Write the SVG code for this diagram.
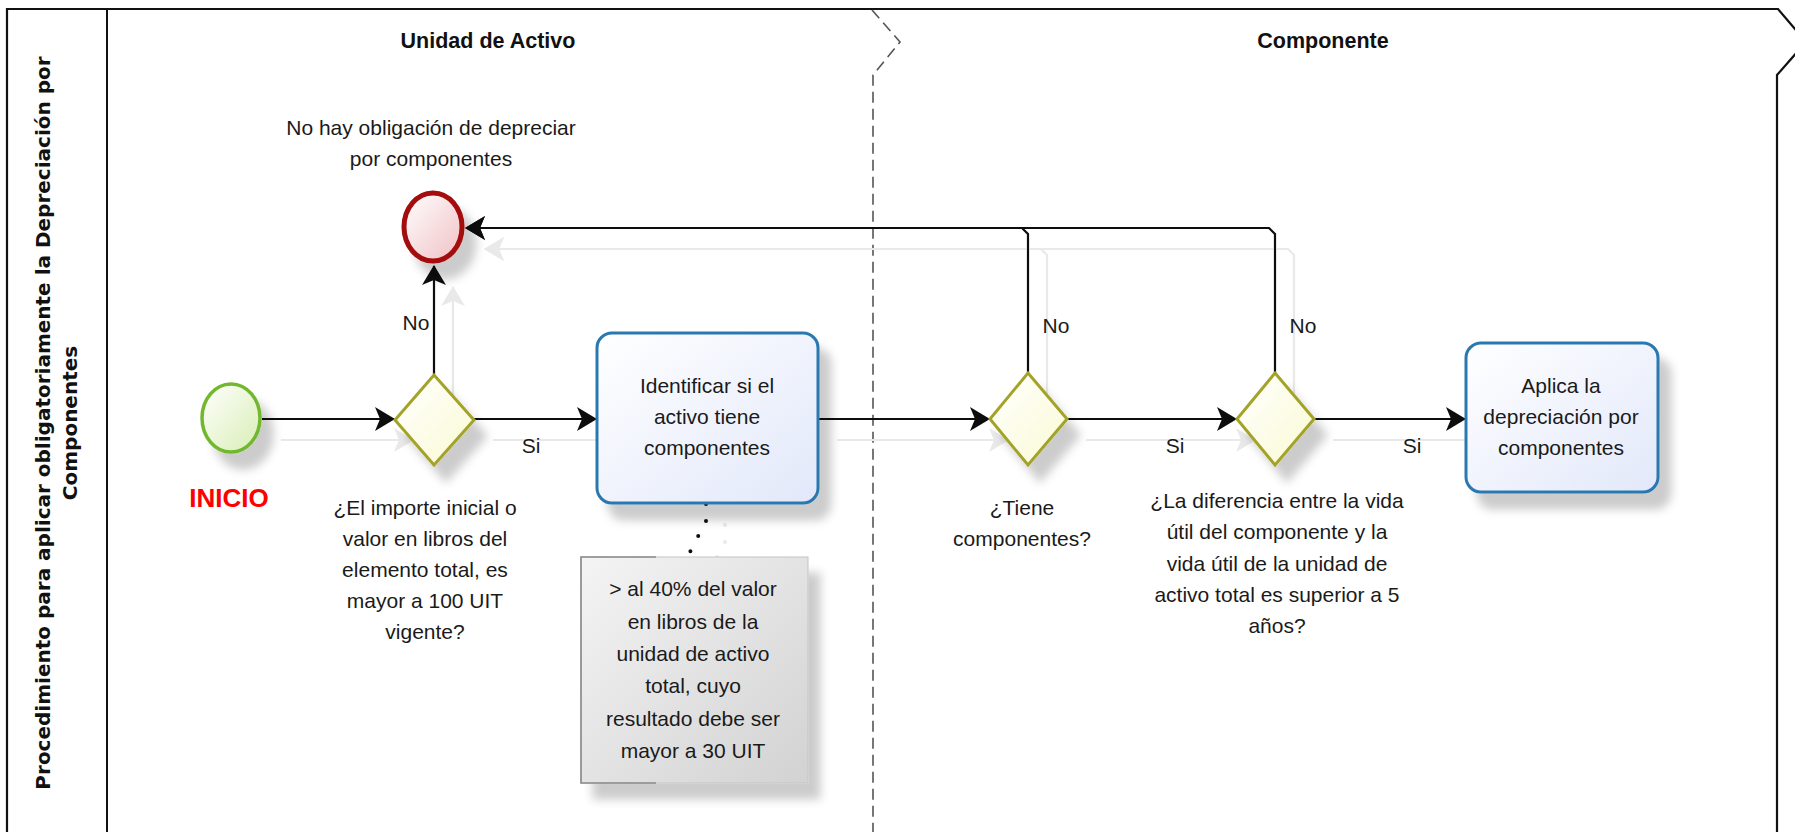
<svg xmlns="http://www.w3.org/2000/svg" width="1795" height="832" viewBox="0 0 1795 832">
<defs>
<style>
.t{font-family:"Liberation Sans",Arial,sans-serif;font-size:21px;fill:#1a1a1a;text-anchor:middle}
.title{font-family:"Liberation Sans",Arial,sans-serif;font-size:21.5px;font-weight:bold;fill:#111;text-anchor:middle}
.pool{font-family:"DejaVu Sans",Verdana,sans-serif;font-size:20px;font-weight:bold;fill:#111;text-anchor:middle}
.flow{fill:none;stroke:#111;stroke-width:2.2}
.gw{fill:url(#gGw);stroke:#a3a32a;stroke-width:3}
.task{fill:url(#gTask);stroke:#2a78b0;stroke-width:3}
</style>
<linearGradient id="gTask" x1="0" y1="0" x2="1" y2="1"><stop offset="0" stop-color="#ffffff"/><stop offset="1" stop-color="#e2e8fa"/></linearGradient>
<linearGradient id="gGw" x1="0" y1="0" x2="1" y2="1"><stop offset="0" stop-color="#ffffff"/><stop offset="1" stop-color="#fafad4"/></linearGradient>
<linearGradient id="gStart" x1="0" y1="0" x2="1" y2="1"><stop offset="0" stop-color="#ffffff"/><stop offset="1" stop-color="#d8eeb4"/></linearGradient>
<linearGradient id="gEnd" x1="0" y1="0" x2="1" y2="1"><stop offset="0" stop-color="#ffffff"/><stop offset="1" stop-color="#f0c0c4"/></linearGradient>
<linearGradient id="gAnn" x1="0" y1="0" x2="1" y2="1"><stop offset="0" stop-color="#f4f4f4"/><stop offset="1" stop-color="#d2d2d2"/></linearGradient>
<filter id="nsh" x="-30%" y="-30%" width="170%" height="170%"><feDropShadow dx="12" dy="16" stdDeviation="5" flood-color="#000" flood-opacity="0.2"/></filter>
<filter id="csh" filterUnits="userSpaceOnUse" x="0" y="0" width="1795" height="832">
<feOffset in="SourceAlpha" dx="19" dy="21" result="o"/>
<feFlood flood-color="#e9e9e9"/>
<feComposite in2="o" operator="in" result="s"/>
<feMerge><feMergeNode in="s"/><feMergeNode in="SourceGraphic"/></feMerge>
</filter>
<marker id="arr" markerUnits="userSpaceOnUse" viewBox="0 0 20 24" markerWidth="20" markerHeight="24" refX="19" refY="12" orient="auto">
<path d="M0,0 L20,12 L0,24 L5,12 Z" fill="#111"/>
</marker>
</defs>

<g id="pool">
<path d="M7,845 L7,9 L1778,9 L1806,42 L1777,75 L1777,845" fill="#fff" stroke="#111" stroke-width="2.2"/>
<line x1="107" y1="9" x2="107" y2="845" stroke="#111" stroke-width="2"/>
<path d="M872,10 L900,42 L873,75 L873,845" fill="none" stroke="#555" stroke-width="1.6" stroke-dasharray="11 6"/>
<text class="pool" transform="translate(50,423) rotate(-90)">Procedimiento para aplicar obligatoriamente la Depreciación por</text>
<text class="pool" transform="translate(77,423) rotate(-90)">Componentes</text>
<text class="title" x="488" y="48">Unidad de Activo</text>
<text class="title" x="1323" y="48">Componente</text>
</g>

<g id="connectors">
<g filter="url(#csh)">
<path class="flow" d="M262,419 L394,419" marker-end="url(#arr)"/>
<path class="flow" d="M434,375 L434,266" marker-end="url(#arr)"/>
<path class="flow" d="M474,419 L596,419" marker-end="url(#arr)"/>
<path class="flow" d="M818,419 L989,419" marker-end="url(#arr)"/>
<path class="flow" d="M1067,419 L1236,419" marker-end="url(#arr)"/>
<path class="flow" d="M1314,419 L1465,419" marker-end="url(#arr)"/>
<path class="flow" d="M1028,373 L1028,234 L1022,228 L466,228" marker-end="url(#arr)"/>
<path class="flow" d="M1275,373 L1275,234 L1269,228 L466,228" marker-end="url(#arr)"/>
<path d="M706,504 L706,521 L690,552" fill="none" stroke="#111" stroke-width="4" stroke-linecap="round" stroke-dasharray="0 17"/>
</g>
<text class="t" x="416" y="330">No</text>
<text class="t" x="531" y="453">Si</text>
<text class="t" x="1056" y="333">No</text>
<text class="t" x="1303" y="333">No</text>
<text class="t" x="1175" y="453">Si</text>
<text class="t" x="1412" y="453">Si</text>
</g>

<g id="start">
<ellipse cx="231" cy="418" rx="29" ry="34" fill="url(#gStart)" stroke="#72b82e" stroke-width="3.5" filter="url(#nsh)"/>
<text x="229" y="507" font-family="'Liberation Sans',Arial,sans-serif" font-size="26" font-weight="bold" fill="#ff0000" text-anchor="middle">INICIO</text>
</g>

<g id="end">
<ellipse cx="433" cy="227" rx="29" ry="34" fill="url(#gEnd)" stroke="#a30a0a" stroke-width="5" filter="url(#nsh)"/>
<text class="t" x="431" y="135">No hay obligación de depreciar</text>
<text class="t" x="431" y="166">por componentes</text>
</g>

<g id="gw1">
<polygon class="gw" points="434,375 474,420 434,465 395,420" filter="url(#nsh)"/>
<text class="t" x="425"><tspan x="425" y="515">¿El importe inicial o</tspan><tspan x="425" y="546">valor en libros del</tspan><tspan x="425" y="577">elemento total, es</tspan><tspan x="425" y="608">mayor a 100 UIT</tspan><tspan x="425" y="639">vigente?</tspan></text>
</g>

<g id="task1">
<rect class="task" x="597" y="333" width="221" height="170" rx="15" filter="url(#nsh)"/>
<text class="t"><tspan x="707" y="393">Identificar si el</tspan><tspan x="707" y="424">activo tiene</tspan><tspan x="707" y="455">componentes</tspan></text>
</g>

<g id="annotation">
<rect x="581" y="557" width="227" height="226" fill="url(#gAnn)" stroke="#c4c4c4" stroke-width="1" filter="url(#nsh)"/>
<path d="M656,557 L581,557 L581,783 L656,783" fill="none" stroke="#8a8a8a" stroke-width="1.6"/>
<text class="t"><tspan x="693" y="596">&gt; al 40% del valor</tspan><tspan x="693" y="629">en libros de la</tspan><tspan x="693" y="661">unidad de activo</tspan><tspan x="693" y="693">total, cuyo</tspan><tspan x="693" y="726">resultado debe ser</tspan><tspan x="693" y="758">mayor a 30 UIT</tspan></text>
</g>

<g id="gw2">
<polygon class="gw" points="1028,373 1067,419 1028,465 990,419" filter="url(#nsh)"/>
<text class="t"><tspan x="1022" y="515">¿Tiene</tspan><tspan x="1022" y="546">componentes?</tspan></text>
</g>

<g id="gw3">
<polygon class="gw" points="1275,373 1314,419 1275,465 1237,419" filter="url(#nsh)"/>
<text class="t"><tspan x="1277" y="508">¿La diferencia entre la vida</tspan><tspan x="1277" y="539">útil del componente y la</tspan><tspan x="1277" y="571">vida útil de la unidad de</tspan><tspan x="1277" y="602">activo total es superior a 5</tspan><tspan x="1277" y="633">años?</tspan></text>
</g>

<g id="task2">
<rect class="task" x="1466" y="343" width="192" height="149" rx="15" filter="url(#nsh)"/>
<text class="t"><tspan x="1561" y="393">Aplica la</tspan><tspan x="1561" y="424">depreciación por</tspan><tspan x="1561" y="455">componentes</tspan></text>
</g>
</svg>
